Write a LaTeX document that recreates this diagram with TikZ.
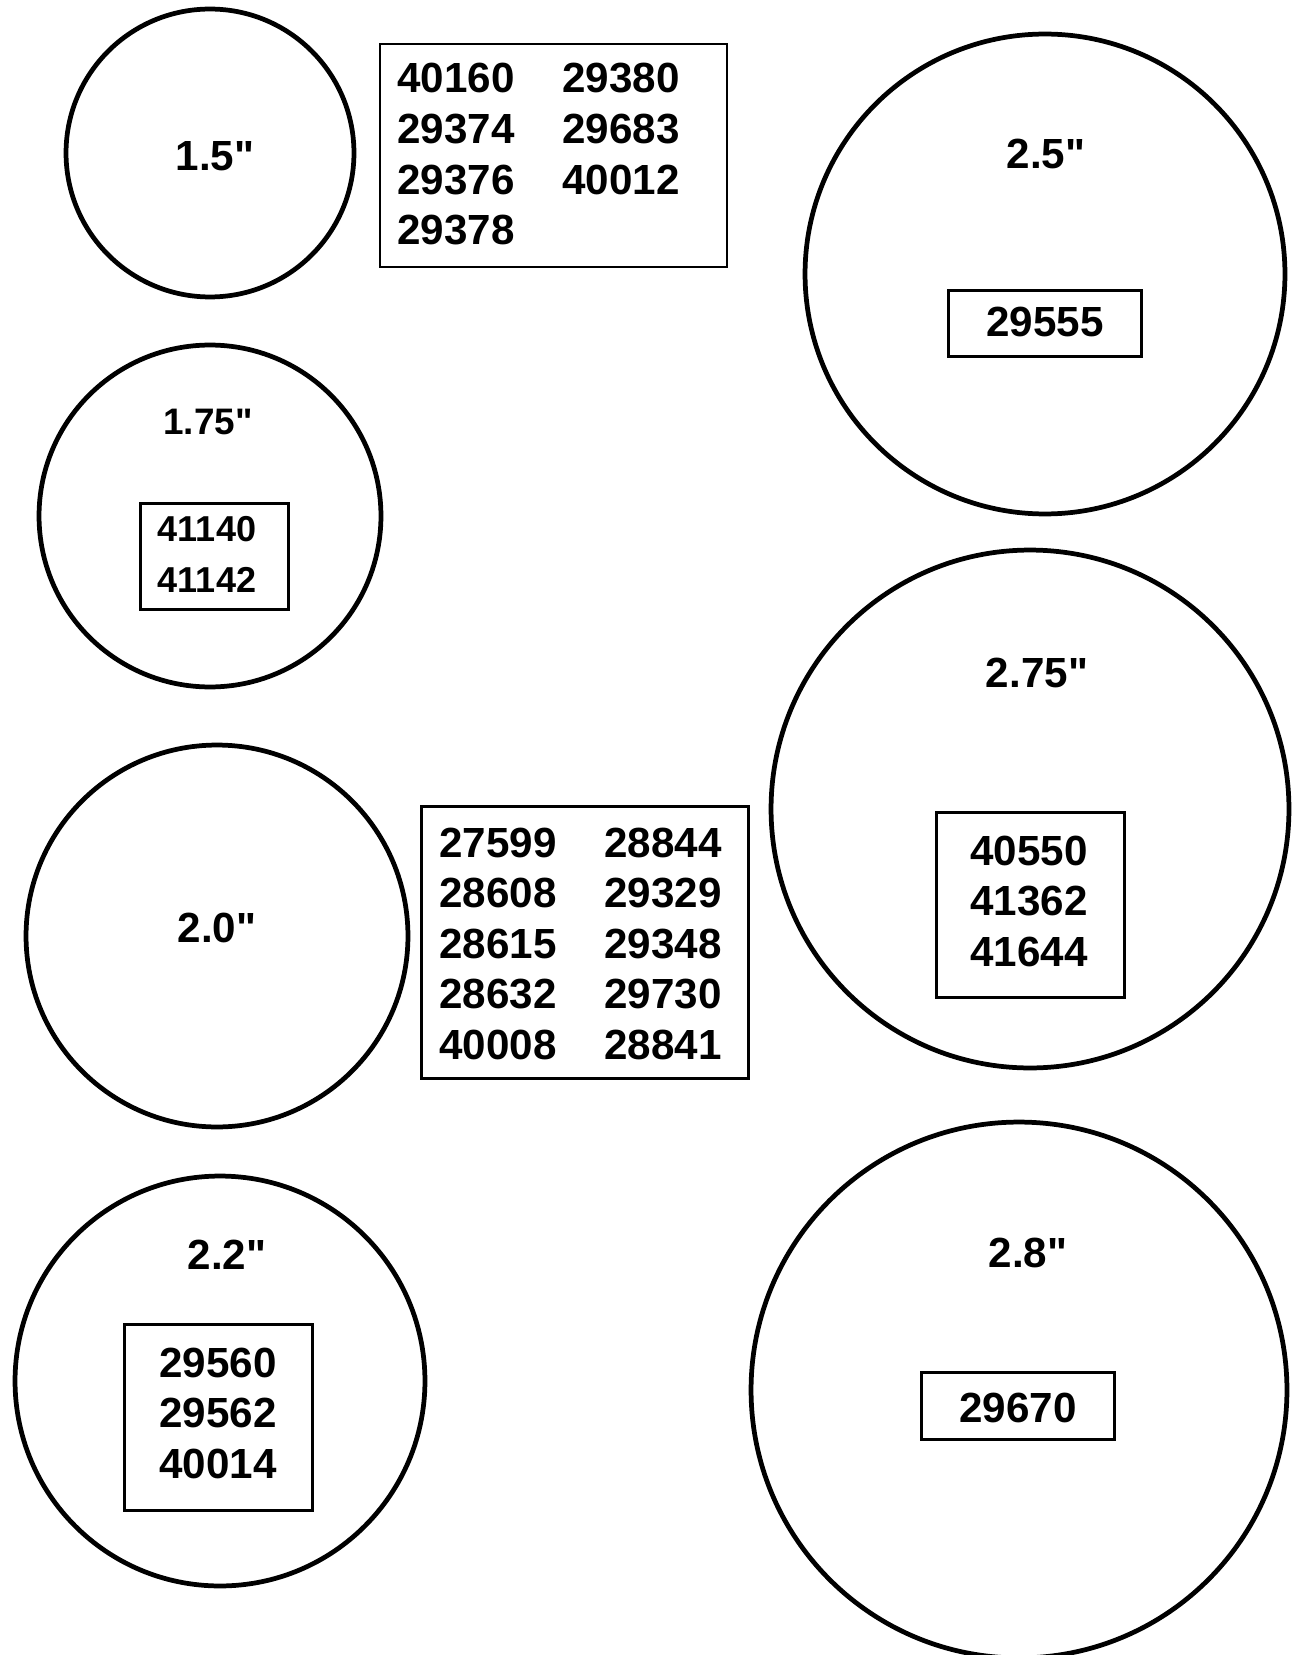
\documentclass[tikz,border=0pt]{standalone}
\usepackage{fontspec}
\setmainfont{Liberation Sans}
\usepackage{tikz}

\begin{document}
\begin{tikzpicture}[
  x=0.02cm, y=-0.02cm,
  ring/.style={draw,circle,line width=2.7pt,inner sep=0pt},
  partbox/.style={draw,line width=1.3pt,inner sep=0pt},
  dia/.style={font=\fontsize{24}{28.8}\selectfont\bfseries,inner sep=0pt,anchor=base},
  parts/.style={font=\fontsize{24}{28.8}\selectfont\bfseries,inner sep=0pt}
]
\useasboundingbox (0,0) rectangle (1293,1655);

% Circles, one per size
\node[ring,minimum size=5.76cm]  (c15)  at (210,153)   {};
\node[ring,minimum size=9.6cm]   (c25)  at (1045,274)  {};
\node[ring,minimum size=6.84cm]  (c175) at (210,516)   {};
\node[ring,minimum size=10.36cm] (c275) at (1030,809)  {};
\node[ring,minimum size=7.64cm]  (c20)  at (217,936)   {};
\node[ring,minimum size=8.2cm]   (c22)  at (220,1381)  {};
\node[ring,minimum size=10.72cm] (c28)  at (1019,1390) {};

% Size labels
\node[dia] (d15)  at (215,171)  {1.5\textquotedbl};
\node[dia] (d25)  at (1046,169) {2.5\textquotedbl};
\node[dia,font=\fontsize{21}{25}\selectfont\bfseries] (d175) at (208,435) {1.75\textquotedbl};
\node[dia] (d275) at (1037,687) {2.75\textquotedbl};
\node[dia] (d20)  at (217,942)  {2.0\textquotedbl};
\node[dia] (d22)  at (227,1269) {2.2\textquotedbl};
\node[dia] (d28)  at (1028,1267) {2.8\textquotedbl};

% Part number boxes
\node[partbox,minimum width=6.94cm,minimum height=4.46cm] (b15)  at (553.5,155.5) {};
\node[partbox,minimum width=3.86cm,minimum height=1.32cm] (b25)  at (1045,323.5)  {};
\node[partbox,minimum width=2.96cm,minimum height=2.12cm] (b175) at (214.5,556.5) {};
\node[partbox,minimum width=3.76cm,minimum height=3.7cm]  (b275) at (1030.5,905)  {};
\node[partbox,minimum width=6.54cm,minimum height=5.44cm] (b20)  at (585,942.5)   {};
\node[partbox,minimum width=3.76cm,minimum height=3.72cm] (b22)  at (218.5,1417.5) {};
\node[partbox,minimum width=3.86cm,minimum height=1.34cm] (b28)  at (1018,1406)   {};

% Part numbers
\node[parts,anchor=base west] (n15) at (397,93)
  {\begin{tabular}[t]{@{}p{3.3cm}@{}l@{}}
   40160 & 29380\\ 29374 & 29683\\ 29376 & 40012\\ 29378 &
   \end{tabular}};
\node[parts,anchor=base] (n25) at (1045,337) {29555};
\node[parts,anchor=base,font=\fontsize{20.5}{29.5}\selectfont\bfseries] (n175) at (207,541)
  {\begin{tabular}[t]{@{}c@{}} 41140\\ 41142 \end{tabular}};
\node[parts,anchor=base] (n275) at (1029,865)
  {\begin{tabular}[t]{@{}c@{}} 40550\\ 41362\\ 41644 \end{tabular}};
\node[parts,anchor=base west] (n20) at (439,857)
  {\begin{tabular}[t]{@{}p{3.3cm}@{}l@{}}
   27599 & 28844\\ 28608 & 29329\\ 28615 & 29348\\ 28632 & 29730\\ 40008 & 28841
   \end{tabular}};
\node[parts,anchor=base] (n22) at (218,1377)
  {\begin{tabular}[t]{@{}c@{}} 29560\\ 29562\\ 40014 \end{tabular}};
\node[parts,anchor=base] (n28) at (1018,1422) {29670};
\end{tikzpicture}
\end{document}
